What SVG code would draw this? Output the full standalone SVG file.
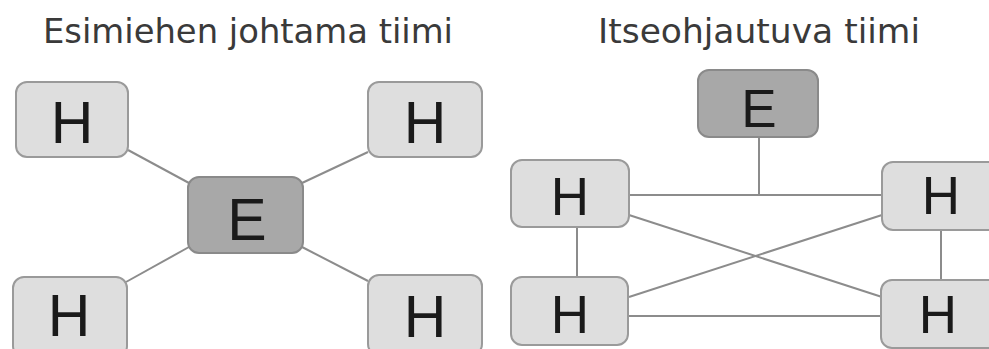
<svg xmlns="http://www.w3.org/2000/svg" width="989" height="349" viewBox="0 0 989 349">
  <style>
    .title { font-family: "DejaVu Sans", "Liberation Sans", sans-serif; font-size: 33px; fill: #3a3a3a; }
    .h { fill: #dedede; stroke: #9a9a9a; stroke-width: 2; }
    .e { fill: #a8a8a8; stroke: #8a8a8a; stroke-width: 2; }
    .lbl { font-family: "Liberation Sans", Arial, sans-serif; fill: #1a1a1a; text-anchor: middle; }
    .big { font-size: 59px; }
    .mid { font-size: 53px; }
    .link { stroke: #8c8c8c; stroke-width: 2; fill: none; }
  </style>
  <rect width="989" height="349" fill="#ffffff"/>

  <text class="title" x="43" y="43" textLength="410" lengthAdjust="spacingAndGlyphs">Esimiehen johtama tiimi</text>
  <text class="title" x="598" y="43" textLength="322" lengthAdjust="spacingAndGlyphs">Itseohjautuva tiimi</text>

  <!-- connectors -->
  <g id="connectors">
    <line class="link" x1="128" y1="150" x2="189" y2="183"/>
    <line class="link" x1="368" y1="152" x2="302" y2="183"/>
    <line class="link" x1="189" y1="247" x2="126" y2="282"/>
    <line class="link" x1="302" y1="247" x2="368" y2="281"/>

    <line class="link" x1="759" y1="137" x2="759" y2="195"/>
    <line class="link" x1="629" y1="195" x2="882" y2="195"/>
    <line class="link" x1="628" y1="316" x2="882" y2="316"/>
    <line class="link" x1="577" y1="227" x2="577" y2="277"/>
    <line class="link" x1="941" y1="230" x2="941" y2="280"/>
    <line class="link" x1="629" y1="215" x2="882" y2="297"/>
    <line class="link" x1="629" y1="297" x2="882" y2="215"/>
  </g>

  <!-- left: leader-centred team -->
  <g id="l-h-tl">
    <rect class="h" x="16" y="82" width="112" height="75" rx="11"/>
    <text class="lbl big" x="72" y="143">H</text>
  </g>
  <g id="l-h-tr">
    <rect class="h" x="368" y="82" width="114" height="75" rx="11"/>
    <text class="lbl big" x="425" y="143">H</text>
  </g>
  <g id="l-e">
    <rect class="e" x="188" y="177" width="115" height="76" rx="11"/>
    <text class="lbl big" x="247" y="240">E</text>
  </g>
  <g id="l-h-bl">
    <rect class="h" x="13" y="277" width="114" height="80" rx="11"/>
    <text class="lbl big" x="69" y="336">H</text>
  </g>
  <g id="l-h-br">
    <rect class="h" x="368" y="275" width="114" height="80" rx="11"/>
    <text class="lbl big" x="425" y="337">H</text>
  </g>

  <!-- right: self-directed team -->
  <g id="r-e">
    <rect class="e" x="698" y="70" width="120" height="67" rx="11"/>
    <text class="lbl mid" x="759" y="127">E</text>
  </g>
  <g id="r-h-tl">
    <rect class="h" x="511" y="160" width="118" height="67" rx="11"/>
    <text class="lbl mid" x="570" y="215">H</text>
  </g>
  <g id="r-h-tr">
    <rect class="h" x="882" y="162" width="120" height="68" rx="11"/>
    <text class="lbl mid" x="941" y="214">H</text>
  </g>
  <g id="r-h-bl">
    <rect class="h" x="511" y="277" width="117" height="68" rx="11"/>
    <text class="lbl mid" x="570" y="333">H</text>
  </g>
  <g id="r-h-br">
    <rect class="h" x="881" y="280" width="120" height="68" rx="11"/>
    <text class="lbl mid" x="938" y="333">H</text>
  </g>
</svg>
